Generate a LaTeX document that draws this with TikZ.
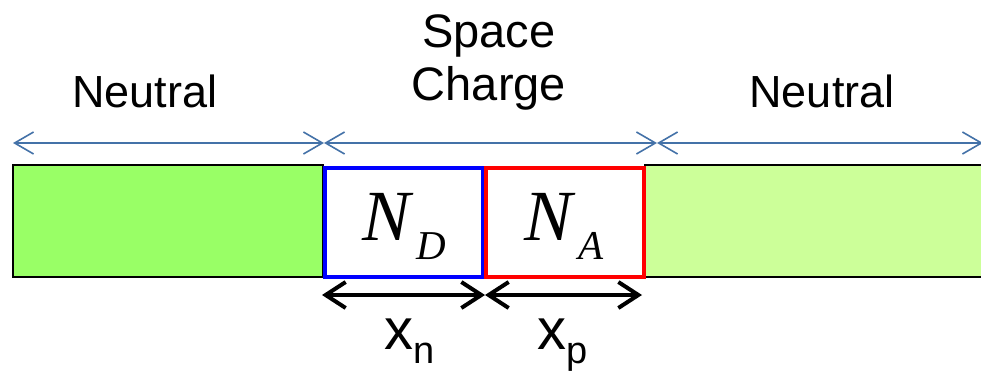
\documentclass[tikz,border=0pt]{standalone}
\usepackage{fontspec}
\setmainfont{Liberation Sans}
\newfontfamily\tms{Liberation Serif}
\usetikzlibrary{arrows.meta}
\definecolor{dimblue}{RGB}{68,114,168}
\definecolor{ngreen}{RGB}{153,255,102}
\definecolor{pgreen}{RGB}{204,255,153}
\definecolor{dblue}{RGB}{0,0,255}
\definecolor{dred}{RGB}{255,0,0}
\tikzset{
  region/.style={draw=black, line width=2pt, minimum height=112pt, inner sep=0pt},
  dopebox/.style={line width=3.5pt, minimum height=109pt, minimum width=158pt, inner sep=0pt, fill=white},
  dimarrow/.style={draw=dimblue, line width=1.6pt, {Straight Barb[length=19pt,width=22pt,line width=1.6pt]}-{Straight Barb[length=19pt,width=22pt,line width=1.6pt]}},
  widtharrow/.style={draw=black, line width=4pt, {Straight Barb[length=20pt,width=26pt,line width=4pt]}-{Straight Barb[length=20pt,width=26pt,line width=4pt]}},
  label/.style={font=\fontsize{45}{52}\selectfont, inner sep=0pt, anchor=base},
  conc/.style={inner sep=0pt, anchor=base west, font=\fontsize{72}{72}\selectfont\tms\itshape},
  xlab/.style={font=\fontsize{58}{58}\selectfont, inner sep=0pt, anchor=base}
}
\newcommand{\concsub}[1]{\kern6pt\raisebox{-19pt}{\fontsize{41}{41}\selectfont #1}}
\begin{document}
\begin{tikzpicture}[x=1pt,y=-1pt]
\useasboundingbox (0,0) rectangle (981,370);
\clip (0,0) rectangle (981,370);
% regions
\node[region, fill=ngreen, minimum width=310pt] (nside) at (168,221) {};
\node[region, fill=pgreen, minimum width=350pt] (pside) at (820,221) {};
\node[dopebox, draw=dblue] (dbox) at (404,222.5) {};
\node[dopebox, draw=dred] (abox) at (565,222.5) {};
% concentrations
\node[conc] (nd) at (362,240) {N\concsub{D}};
\node[conc] (na) at (524,240) {N\concsub{A}};
% labels
\node[label] (neutl) at (145,107) {Neutral};
\node[label] (neutr) at (822,107) {Neutral};
\node[font=\fontsize{47}{53}\selectfont, align=center, inner sep=0pt] (sc) at (489,62) {Space\\Charge};
% dimension arrows
\coordinate (b0) at (13,143);
\coordinate (b1) at (324,143);
\coordinate (b2) at (657,143);
\coordinate (b3) at (983,143);
\draw[dimarrow] (b0) -- (b1);
\draw[dimarrow] (b1) -- (b2);
\draw[dimarrow] (b2) -- (b3);
% widths
\coordinate (w0) at (322,295);
\coordinate (w1) at (485,295);
\coordinate (w2) at (642,295);
\draw[widtharrow] (w0) -- (w1);
\draw[widtharrow] (w1) -- (w2);
\node[xlab] (xn) at (410,349) {x\raisebox{-14pt}{\fontsize{38}{38}\selectfont n}};
\node[xlab] (xp) at (563,349) {x\raisebox{-14pt}{\fontsize{38}{38}\selectfont p}};
\end{tikzpicture}
\end{document}
